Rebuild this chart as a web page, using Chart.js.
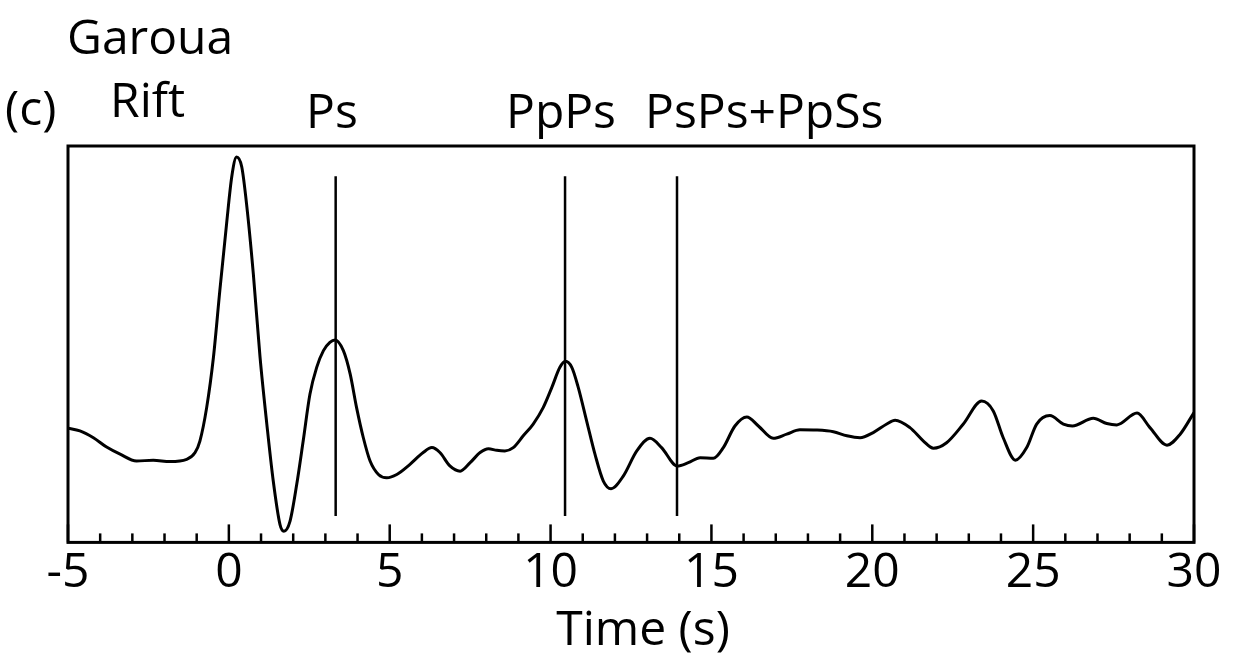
<!DOCTYPE html>
<html>
<head>
<meta charset="utf-8">
<script src="https://cdn.jsdelivr.net/npm/chart.js@4.4.1/dist/chart.umd.min.js"></script>
<style>
  html, body { margin: 0; padding: 0; background: #fff; }
  canvas { display: block; }
</style>
</head>
<body>
<canvas id="rfChart" width="1233" height="655"></canvas>
<script>
// receiver function trace (time in s, amplitude arbitrary)
const times = [-5.00, -4.63, -4.21, -3.80, -3.38, -2.87, -2.35, -1.83, -1.31, -1.05, -0.90, -0.69,
  -0.48, -0.28, -0.07, 0.09, 0.24, 0.40, 0.56, 0.76, 0.97, 1.18, 1.38, 1.59, 1.71, 1.90, 2.11,
  2.31, 2.52, 2.73, 2.94, 3.14, 3.30, 3.56, 3.77, 3.97, 4.18, 4.39, 4.65, 4.91, 5.22, 5.63, 6.04,
  6.31, 6.56, 6.87, 7.19, 7.50, 7.81, 8.07, 8.33, 8.58, 8.84, 9.15, 9.46, 9.77, 10.04, 10.29,
  10.46, 10.66, 10.86, 11.12, 11.38, 11.64, 11.88, 12.26, 12.68, 13.09, 13.45, 13.94, 14.28,
  14.65, 15.06, 15.37, 15.73, 16.10, 16.46, 16.92, 17.34, 17.75, 18.27, 18.79, 19.21, 19.62,
  20.03, 20.45, 20.71, 21.17, 21.59, 21.90, 22.31, 22.83, 23.40, 23.76, 24.07, 24.45, 24.80,
  25.11, 25.52, 25.94, 26.22, 26.87, 27.29, 27.60, 28.23, 28.63, 29.16, 29.57, 30.00];
const amplitude = [0.010, 0.000, -0.025, -0.059, -0.085, -0.110, -0.107, -0.112, -0.104, -0.079,
  -0.037, 0.085, 0.268, 0.513, 0.757, 0.928, 1.000, 0.964, 0.818, 0.574, 0.268, 0.025, -0.183,
  -0.342, -0.366, -0.330, -0.195, -0.037, 0.134, 0.232, 0.293, 0.323, 0.332, 0.293, 0.208, 0.085,
  -0.025, -0.110, -0.159, -0.171, -0.159, -0.122, -0.079, -0.061, -0.079, -0.128, -0.147, -0.116,
  -0.079, -0.065, -0.071, -0.073, -0.061, -0.018, 0.025, 0.085, 0.159, 0.232, 0.254, 0.232, 0.159,
  0.037, -0.085, -0.183, -0.211, -0.165, -0.073, -0.027, -0.061, -0.128, -0.116, -0.098, -0.100,
  -0.061, 0.018, 0.051, 0.018, -0.027, -0.012, 0.004, 0.003, -0.003, -0.018, -0.025, -0.006,
  0.025, 0.039, 0.012, -0.037, -0.063, -0.043, 0.025, 0.109, 0.073, -0.025, -0.107, -0.061, 0.025,
  0.056, 0.025, 0.018, 0.046, 0.027, 0.022, 0.065, 0.012, -0.052, -0.012, 0.067];

// predicted phase arrivals
const phaseNames = ["Ps", "PpPs", "PsPs+PpSs"];
const phaseTimes = [3.32, 10.45, 13.93];
const phaseLineBottom = -0.311;
const phaseLineTop = 0.930;

const xMin = -5, xMax = 30;
const yMin = -0.407, yMax = 1.040;
const xTitle = "Time (s)";

const FONT = "'Open Sans', 'DejaVu Sans', sans-serif";

const trace = times.map((t, i) => ({ x: t, y: amplitude[i] }));

const phaseSets = phaseTimes.map((t, i) => ({
  label: phaseNames[i],
  data: [{ x: t, y: phaseLineBottom }, { x: t, y: phaseLineTop }],
  borderColor: '#000',
  borderWidth: 2.5,
  pointRadius: 0,
  tension: 0
}));

// frame, inward ticks, axis title and the text labels above the plot
const decorations = {
  id: 'decorations',
  afterDraw(chart) {
    const ctx = chart.ctx;
    const area = chart.chartArea;
    const xs = chart.scales.x;
    ctx.save();
    ctx.strokeStyle = '#000';
    ctx.lineWidth = 3;
    ctx.strokeRect(area.left, area.top, area.right - area.left, area.bottom - area.top);

    ctx.lineWidth = 2.5;
    xs.ticks.forEach(tk => {
      const px = xs.getPixelForValue(tk.value);
      const len = tk.value % 5 === 0 ? 18 : 9;
      ctx.beginPath();
      ctx.moveTo(px, area.bottom);
      ctx.lineTo(px, area.bottom - len);
      ctx.stroke();
    });

    ctx.fillStyle = '#000';
    ctx.font = '48px ' + FONT;
    ctx.textBaseline = 'alphabetic';
    ctx.textAlign = 'left';
    ctx.fillText('Garoua', 67, 54);
    ctx.fillText('Rift', 110, 117);
    ctx.fillText('(c)', 5, 125);
    ctx.fillText(phaseNames[0], 306, 128);
    ctx.fillText(phaseNames[1], 506, 128);
    ctx.fillText(phaseNames[2], 645, 128);

    ctx.textAlign = 'center';
    ctx.fillText(xTitle, 643, 645);
    ctx.restore();
  }
};

new Chart(document.getElementById('rfChart'), {
  type: 'line',
  data: {
    datasets: [{
      label: 'Garoua Rift',
      data: trace,
      borderColor: '#000',
      borderWidth: 3,
      pointRadius: 0,
      cubicInterpolationMode: 'monotone'
    }, ...phaseSets]
  },
  options: {
    responsive: false,
    animation: false,
    events: [],
    layout: { padding: { left: 68, right: 39, top: 146, bottom: 51 } },
    plugins: {
      legend: { display: false },
      tooltip: { enabled: false }
    },
    scales: {
      x: {
        type: 'linear',
        min: xMin,
        max: xMax,
        border: { display: false },
        grid: { display: false, drawTicks: false },
        ticks: {
          stepSize: 1,
          autoSkip: false,
          maxRotation: 0,
          padding: 2,
          color: '#000',
          font: { family: FONT, size: 48, lineHeight: 1.2 },
          callback: v => (v % 5 === 0 ? String(v) : '')
        }
      },
      y: {
        display: false,
        min: yMin,
        max: yMax
      }
    }
  },
  plugins: [decorations]
});
</script>
</body>
</html>
